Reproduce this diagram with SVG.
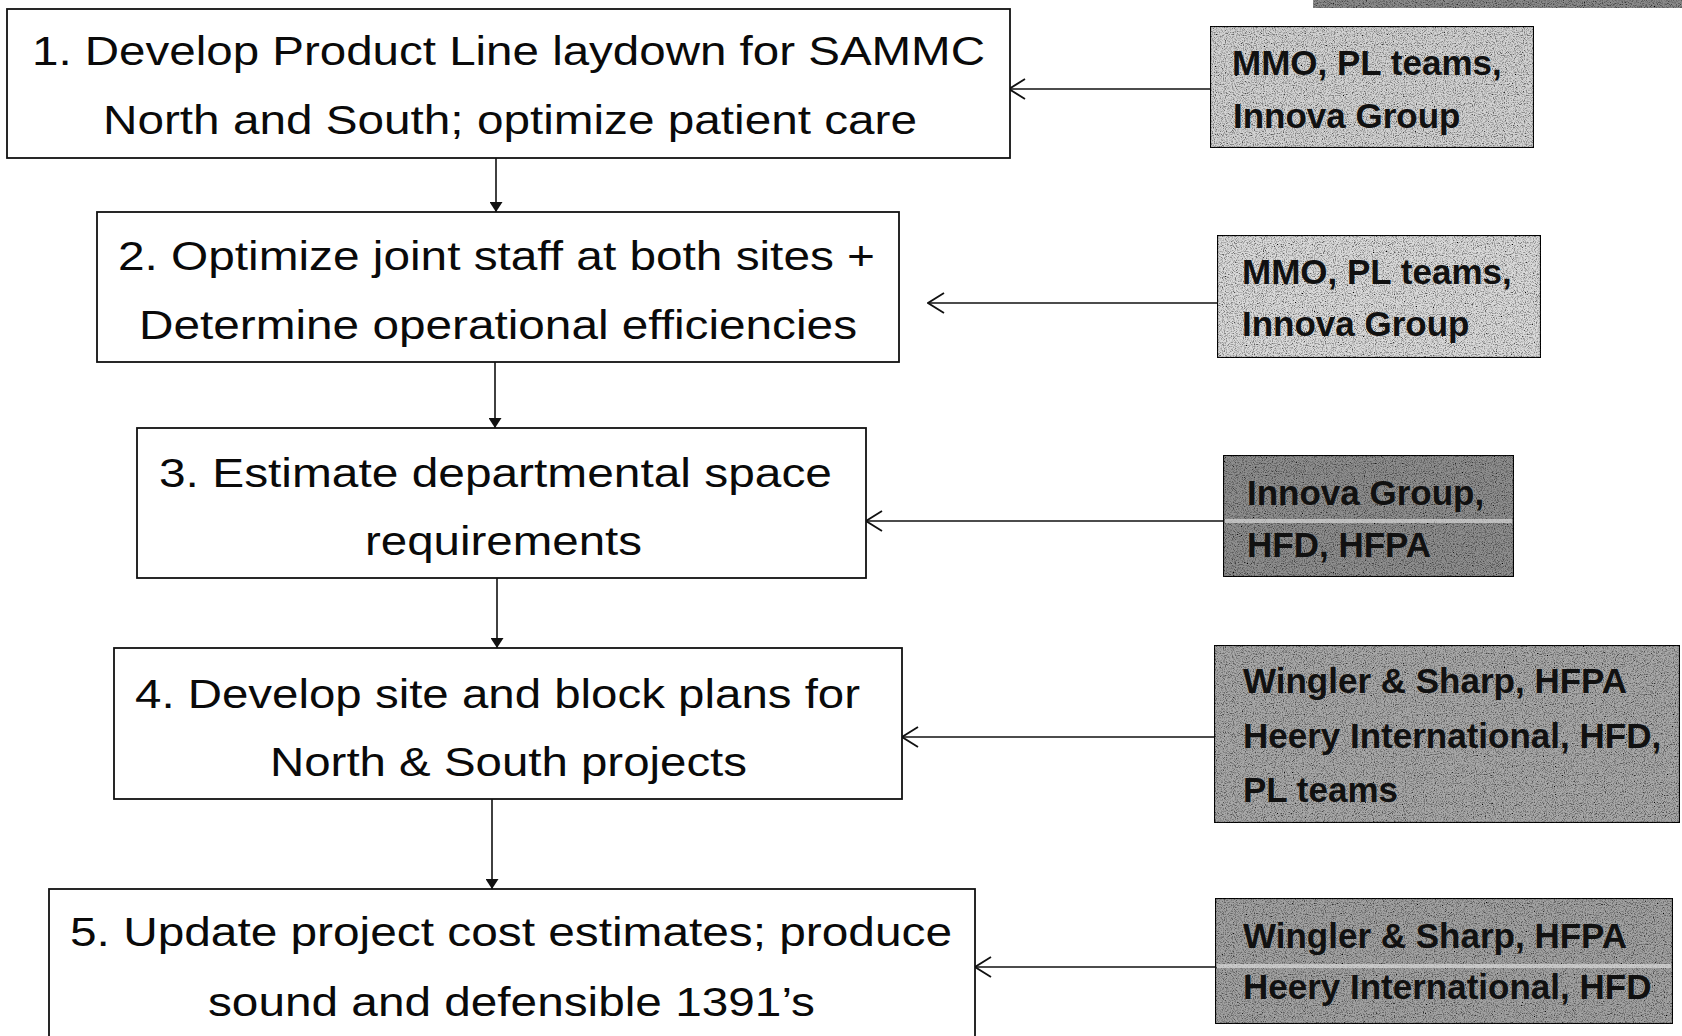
<svg xmlns="http://www.w3.org/2000/svg" width="1682" height="1036" viewBox="0 0 1682 1036">
<style>
.box{fill:#fff;stroke:#111;stroke-width:1.8}
.rbox{stroke:#111;stroke-width:2.2}
.t{font-family:"Liberation Sans",Arial,sans-serif;font-size:40px;fill:#0a0a0a}
.rt{font-family:"Liberation Sans",Arial,sans-serif;font-size:35px;font-weight:bold;fill:#111}
.ln{stroke:#111;stroke-width:1.6;fill:none}
</style>
<defs>
<marker id="tri" viewBox="0 0 10 13" refX="10" refY="6.5" markerWidth="10" markerHeight="13" markerUnits="userSpaceOnUse" orient="auto">
<path d="M0,0 L10,6.5 L0,13 Z" fill="#111"/>
</marker>
<marker id="open" viewBox="0 0 18 22" refX="17" refY="11" markerWidth="18" markerHeight="22" markerUnits="userSpaceOnUse" orient="auto">
<path d="M1,1 L17,11 L1,21" fill="none" stroke="#111" stroke-width="1.8"/>
</marker>
<filter id="grain" x="0" y="0" width="100%" height="100%">
<feTurbulence type="fractalNoise" baseFrequency="0.9" numOctaves="2" seed="5" result="n"/>
<feColorMatrix in="n" type="matrix" values="0 0 0 0 0  0 0 0 0 0  0 0 0 0 0  2.4 0 0 0 -1.05" result="d"/>
<feComposite in="d" in2="SourceGraphic" operator="in" result="d2"/>
<feMerge><feMergeNode in="SourceGraphic"/><feMergeNode in="d2"/></feMerge>
</filter>
</defs>
<rect width="1682" height="1036" fill="#fff"/>

<rect x="1313" y="-20" width="380" height="28" fill="#8a8a8a" filter="url(#grain)"/>

<g id="connectors">
<line class="ln" x1="496" y1="158" x2="496" y2="212" marker-end="url(#tri)"/>
<line class="ln" x1="495" y1="362" x2="495" y2="428" marker-end="url(#tri)"/>
<line class="ln" x1="497" y1="578" x2="497" y2="648" marker-end="url(#tri)"/>
<line class="ln" x1="492" y1="799" x2="492" y2="889" marker-end="url(#tri)"/>
<line class="ln" x1="1210" y1="89" x2="1009" y2="89" marker-end="url(#open)"/>
<line class="ln" x1="1217" y1="303" x2="928" y2="303" marker-end="url(#open)"/>
<line class="ln" x1="1223" y1="521" x2="866" y2="521" marker-end="url(#open)"/>
<line class="ln" x1="1214" y1="737" x2="902" y2="737" marker-end="url(#open)"/>
<line class="ln" x1="1215" y1="967" x2="975" y2="967" marker-end="url(#open)"/>
</g>

<g id="step1">
<rect class="box" x="7" y="9" width="1003" height="149"/>
<text class="t" x="32" y="65" textLength="953" lengthAdjust="spacingAndGlyphs">1. Develop Product Line laydown for SAMMC</text>
<text class="t" x="103" y="134" textLength="814" lengthAdjust="spacingAndGlyphs">North and South; optimize patient care</text>
</g>
<g id="step2">
<rect class="box" x="97" y="212" width="802" height="150"/>
<text class="t" x="118" y="270" textLength="757" lengthAdjust="spacingAndGlyphs">2. Optimize joint staff at both sites +</text>
<text class="t" x="139" y="339" textLength="718" lengthAdjust="spacingAndGlyphs">Determine operational efficiencies</text>
</g>
<g id="step3">
<rect class="box" x="137" y="428" width="729" height="150"/>
<text class="t" x="159" y="487" textLength="673" lengthAdjust="spacingAndGlyphs">3. Estimate departmental space</text>
<text class="t" x="365" y="555" textLength="277" lengthAdjust="spacingAndGlyphs">requirements</text>
</g>
<g id="step4">
<rect class="box" x="114" y="648" width="788" height="151"/>
<text class="t" x="135" y="708" textLength="725" lengthAdjust="spacingAndGlyphs">4. Develop site and block plans for</text>
<text class="t" x="270" y="776" textLength="477" lengthAdjust="spacingAndGlyphs">North &amp; South projects</text>
</g>
<g id="step5">
<rect class="box" x="49" y="889" width="926" height="200"/>
<text class="t" x="70" y="946" textLength="882" lengthAdjust="spacingAndGlyphs">5. Update project cost estimates; produce</text>
<text class="t" x="208" y="1016" textLength="607" lengthAdjust="spacingAndGlyphs">sound and defensible 1391’s</text>
</g>

<g id="who1">
<rect class="rbox" x="1210" y="26" width="324" height="122" fill="#d2d2d2" filter="url(#grain)"/>
<text class="rt" x="1232" y="75">MMO, PL teams,</text>
<text class="rt" x="1233" y="128">Innova Group</text>
</g>
<g id="who2">
<rect class="rbox" x="1217" y="235" width="324" height="123" fill="#dadada" filter="url(#grain)"/>
<text class="rt" x="1242" y="284">MMO, PL teams,</text>
<text class="rt" x="1242" y="336">Innova Group</text>
</g>
<g id="who3">
<rect class="rbox" x="1223" y="455" width="291" height="122" fill="#8e8e8e" filter="url(#grain)"/>
<rect x="1225" y="519" width="287" height="4" fill="#d8d8d8" opacity="0.7"/>
<text class="rt" x="1247" y="505">Innova Group,</text>
<text class="rt" x="1247" y="557">HFD, HFPA</text>
</g>
<g id="who4">
<rect class="rbox" x="1214" y="645" width="466" height="178" fill="#a8a8a8" filter="url(#grain)"/>
<text class="rt" x="1243" y="693">Wingler &amp; Sharp, HFPA</text>
<text class="rt" x="1243" y="748">Heery International, HFD,</text>
<text class="rt" x="1243" y="802">PL teams</text>
</g>
<g id="who5">
<rect class="rbox" x="1215" y="898" width="458" height="126" fill="#a2a2a2" filter="url(#grain)"/>
<rect x="1217" y="964" width="454" height="4" fill="#dcdcdc" opacity="0.7"/>
<text class="rt" x="1243" y="948">Wingler &amp; Sharp, HFPA</text>
<text class="rt" x="1243" y="999">Heery International, HFD</text>
</g>
</svg>
